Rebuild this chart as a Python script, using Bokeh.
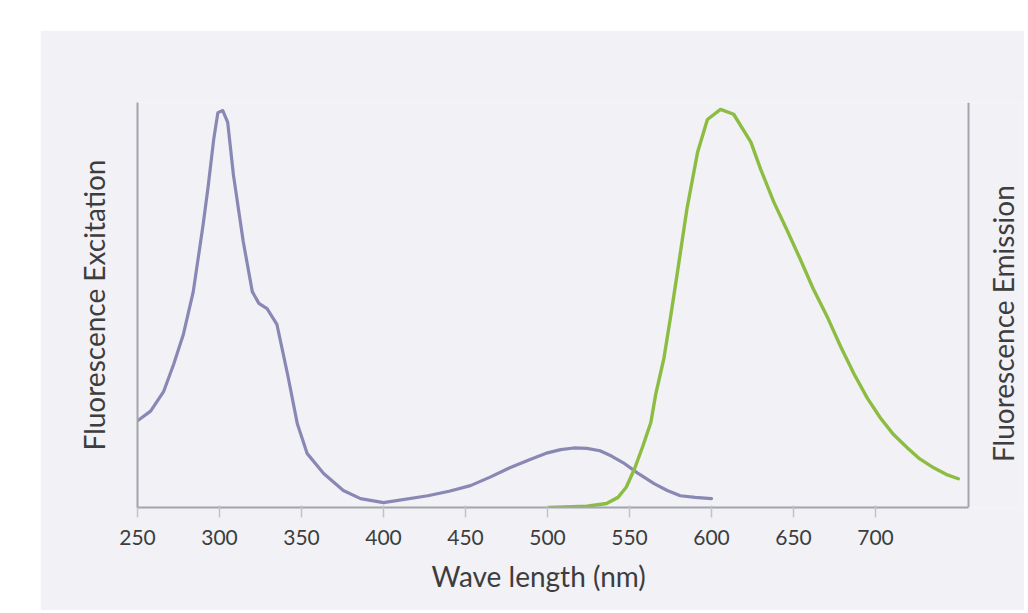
import math
from bokeh.plotting import figure
from bokeh.models import Range1d, LinearAxis, FixedTicker, Span, Spacer, Title
from bokeh.core.properties import value
from bokeh.layouts import column, row
from bokeh.embed import file_html
from bokeh.resources import INLINE

# ---- data ----
ex_nm = [250, 258, 266, 272, 278, 284, 290, 293, 296.5, 299, 302, 305, 308.5, 314.5, 320, 324, 329,
         335, 341.5, 347.5, 353.5, 363.5, 375.5, 386, 400, 427, 440, 453, 465, 477, 489, 500, 508,
         516, 524, 532, 539, 546, 555, 565, 573, 581, 590, 600]
ex_val = [0.214, 0.238, 0.287, 0.353, 0.428, 0.533, 0.698, 0.79, 0.91, 0.975, 0.98, 0.951, 0.821,
          0.656, 0.533, 0.504, 0.491, 0.452, 0.329, 0.206, 0.133, 0.084, 0.042, 0.022, 0.012,
          0.029, 0.04, 0.054, 0.075, 0.098, 0.118, 0.135, 0.143, 0.147, 0.146, 0.14, 0.127, 0.111,
          0.085, 0.059, 0.042, 0.029, 0.025, 0.022]

em_nm = [501, 524, 536, 543, 548, 553, 558, 563, 566, 571, 575, 579, 585, 591.5, 597.5, 605.5,
         613.5, 624, 630, 638, 646, 654, 662, 671, 679, 687, 695, 703, 711, 719.5, 727, 735.5,
         743, 750.5]
em_val = [0.0, 0.003, 0.01, 0.025, 0.05, 0.095, 0.15, 0.21, 0.28, 0.369, 0.47, 0.575, 0.737,
          0.877, 0.958, 0.983, 0.971, 0.902, 0.835, 0.754, 0.685, 0.614, 0.54, 0.467, 0.395,
          0.329, 0.27, 0.221, 0.18, 0.147, 0.12, 0.098, 0.082, 0.071]

x_ticks = [250, 300, 350, 400, 450, 500, 550, 600, 650, 700]
x_axis_end = 756.7
x_title = "Wave length (nm)"
left_title = "Fluorescence Excitation"
right_title = "Fluorescence Emission"

PANEL = "#f1f1f6"
TEXT = "#3d3d3d"
AXIS = "#a4a4ac"
FONT = "Lato"

p = figure(width=984, height=580, output_backend="svg", toolbar_location=None,
           x_range=Range1d(250, 788.4), y_range=Range1d(0, 1),
           x_axis_location=None, y_axis_location=None,
           min_border_left=97, min_border_right=4, min_border_top=72, min_border_bottom=103)
p.background_fill_color = PANEL
p.border_fill_color = PANEL
p.outline_line_color = None
p.grid.visible = False

xa = LinearAxis(ticker=FixedTicker(ticks=x_ticks), bounds=(250, x_axis_end))
xa.axis_line_color = AXIS
xa.axis_line_width = 2
xa.major_tick_line_color = "#c2c2ca"
xa.major_tick_line_width = 1.5
xa.major_tick_in = 2
xa.major_tick_out = 10
xa.minor_tick_line_color = None
xa.major_label_text_font = FONT
xa.major_label_text_font_size = "21px"
xa.major_label_text_color = TEXT
xa.major_label_standoff = 12
p.add_layout(xa, "below")

# x-axis title, placed under the wavelength axis (left-aligned with an offset)
p.add_layout(Title(text=x_title, align="left", offset=294, standoff=18,
                   text_font=FONT, text_font_size="28px", text_font_style="normal",
                   text_color=TEXT), "below")

ya = LinearAxis(ticker=FixedTicker(ticks=[]), axis_label=left_title)
ya.axis_line_color = AXIS
ya.axis_line_width = 2
ya.major_tick_line_color = None
ya.minor_tick_line_color = None
ya.major_label_text_font_size = "0px"
ya.axis_label_text_font = FONT
ya.axis_label_text_font_size = "28px"
ya.axis_label_text_font_style = "normal"
ya.axis_label_text_color = TEXT
ya.axis_label_standoff = 27
p.add_layout(ya, "left")

# right-hand axis line at the end of the wavelength axis
p.add_layout(Span(location=x_axis_end, dimension="height", line_color=AXIS, line_width=2))

# right-hand title, reading bottom to top
p.text(x=[778], y=[0.454], text=[right_title], angle=math.pi / 2,
       text_align="center", text_baseline="middle",
       text_font=value(FONT), text_font_size="28px", text_color=TEXT)

p.line(ex_nm, ex_val, line_color="#8988b4", line_width=3.2, line_join="round", line_cap="round")
p.line(em_nm, em_val, line_color="#8cbd42", line_width=3.4, line_join="round", line_cap="round")

layout = column(Spacer(height=30), row(Spacer(width=40), p))
open("out.html", "w").write(file_html(layout, INLINE))
